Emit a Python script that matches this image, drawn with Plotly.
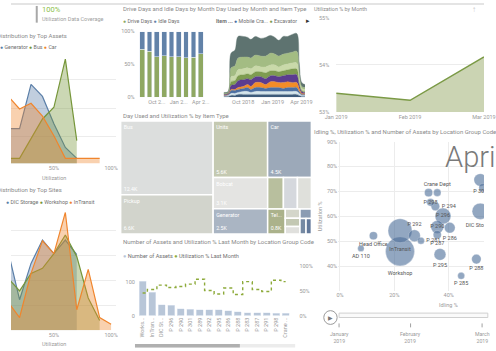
import plotly.graph_objects as go

W, H = 496, 351
def fx(p): return p / W
def fy(p): return 1 - p / H

FONT = "Roboto"
TITLE = "#8a8a8a"
TICK = "#9a9a9a"
GRID = "#ececec"

# ---------------- data ----------------
util_bins = [0, 10, 20, 30, 40, 50, 60, 70, 80, 90, 100]
asset_generator = [12.8, 12.8, 12.8, 28.3, 24.1, 14.5, 6.2, 2.4]
asset_bus = [2.4, 2.4, 2.4, 9.3, 16.2, 20.3, 37.2, 8.6]
asset_car = [23.0, 24.2, 19.7, 21.7, 17.2, 10.3, 2.4, 2.4, 2.4, 2.4]

site_dic = [20.0, 31.5, 12.2, 26.7, 36.0, 30.6, 36.0, 30.2]
site_workshop = [18.0, 20.8, 15.7, 22.7, 24.7, 30.6, 38.0, 29.4, 12.9, 3.9]
site_intransit = [8.0, 11.2, 5.1, 22.7, 35.7, 30.6, 47.0, 8.2, 24.3, 5.1, 2.4]

months = ["Aug 2018", "Sep 2018", "Oct 2018", "Nov 2018", "Dec 2018",
          "Jan 2019", "Feb 2019", "Mar 2019", "Apr 2019"]
drive_pct = [73, 70, 62, 63, 62, 62, 60, 61, 66]
idle_pct = [27, 30, 38, 37, 38, 38, 40, 39, 34]
month_ticks = ["Oct 2018", "Jan 2019", "Apr 2019"]
month_ticktext = ["Oct 2...", "Jan 2...", "Apr 2..."]

stream_dates = ["2018-08-01", "2018-08-15", "2018-08-24", "2018-09-05", "2018-09-15",
                "2018-10-01", "2018-10-15", "2018-10-25", "2018-11-08", "2018-11-25",
                "2018-12-10", "2018-12-25", "2019-01-08", "2019-01-20", "2019-02-03",
                "2019-02-17", "2019-03-03", "2019-03-17", "2019-03-25", "2019-04-02",
                "2019-04-12"]
stream_names = ["Telehandler", "Shovel", "Mobile Crane", "Generator", "Bobcat",
                "Excavator", "Car", "Units", "Bus"]
stream_colors = ["#3D5A7A", "#D6E6EC", "#4C6FA2", "#F28C28", "#5B3C8F",
                 "#7E9C50", "#C9D9A9", "#A3BC83", "#5E7370"]
stream_l1 = [1, 1, 2, 2, 3, 3, 3, 3, 3, 3, 3, 3, 3, 3, 3, 3, 3, 3, 2, 1, 1]
stream_l2 = [1, 1, 2, 2, 2, 3, 3, 2, 3, 3, 3, 3, 3, 3, 3, 3, 3, 3, 2, 1, 1]
stream_l3 = [0, 1, 3, 3, 3, 3, 4, 3, 4, 4, 3, 4, 4, 4, 3, 4, 4, 4, 2, 1, 1]
stream_l4 = [0, 0, 1, 1, 2, 2, 3, 3, 5, 5, 4, 6, 6, 5, 6, 6, 5, 5, 3, 1, 1]
stream_l5 = [1, 1, 4, 5, 7, 7, 6, 7, 6, 6, 6, 6, 6, 6, 7, 7, 8, 8, 4, 2, 1]
stream_l6 = [1, 1, 4, 4, 5, 5, 5, 5, 5, 5, 6, 5, 5, 5, 5, 5, 6, 6, 3, 1, 1]
stream_l7 = [0, 0, 5, 5, 6, 6, 6, 6, 6, 5, 6, 6, 6, 5, 6, 6, 6, 6, 3, 2, 2]
stream_l8 = [0, 0, 9, 10, 12, 12, 11, 11, 11, 11, 11, 12, 11, 11, 11, 11, 11, 12, 6, 2, 2]
stream_l9 = [1, 1, 15, 16, 22, 21, 20, 19, 19, 18, 19, 18, 17, 16, 18, 17, 18, 18, 10, 4, 3]
stream_layers = [stream_l1, stream_l2, stream_l3, stream_l4, stream_l5,
                 stream_l6, stream_l7, stream_l8, stream_l9]
stream_ticks = ["2018-10-01", "2019-01-01", "2019-04-01"]
stream_ticktext = ["Oct 2018", "Jan 2019", "Apr 2019"]

util_months = ["Jan 2019", "Feb 2019", "Mar 2019"]
util_values = [53.40, 53.25, 54.17]

item_types = ["Bus", "Pickup", "Units", "Car", "Bobcat", "Generator", "Shovel",
              "Loader", "Forklift", "Telehandler", "Compressor", "Lighting Tower",
              "Welder", "Van", "Truck", "Roller"]
item_days = [12.4, 6.6, 5.6, 4.5, 3.1, 2.5, 0.9, 0.8, 0.8, 0.8,
             0.25, 0.22, 0.2, 0.2, 0.17, 0.15]
item_short = ["Bus", "Pickup", "Units", "Car", "Bobcat", "Generator", "Sh...", "", "",
              "Tel...", "", "", "", "", "", ""]
item_value_text = ["12.4K", "6.6K", "5.6K", "4.5K", "3.1K", "2.5K", "0.9K", "0.8K",
                   "0.8K", "0.8K", "", "", "", "", "", ""]
item_colors = ["#DCDEDD", "#D2D4CC", "#C4C9B1", "#9CA9B9", "#E4E4E2", "#AAB5C3",
               "#B8BF9E", "#D5D8DD", "#DFE0DB", "#ABB28B", "#D4D6CA", "#C3C8B3",
               "#E0E0DD", "#8B9CB3", "#7589A3", "#62789A"]

loc_codes = ["Workshop", "InTransit", "DIC Storage", "P 296", "P 290", "P 301", "P 289",
             "P 292", "P 295", "P 286", "P 288", "P 283", "P 287", "P 291", "P 298",
             "Crane Dept"]
loc_ticktext = ["Works...", "InTran...", "DIC St...", "P 296", "P 290", "P 301", "P 289",
                "P 292", "P 295", "P 286", "P 288", "P 283", "P 287", "P 291", "P 298",
                "Crane ..."]
loc_assets = [102, 70, 32, 31, 20, 19, 18, 17, 17, 14, 11, 8, 8, 8, 7, 7]
loc_util_last = [46, 53, 62, 57, 59, 64, 74, 51, 44, 56, 43, 69, 53, 49, 72, 69]

bub_names = ["Workshop", "InTransit", "DIC Storage", "P 296", "P 290", "P 301", "P 292",
             "P 295", "P 286", "P 288", "P 294", "P 291", "P 287", "P 283", "Head Office",
             "P 281", "Crane Dept", "P 298", "P 285", "AD 110"]
bub_labels = ["Workshop", "InTransit", "DIC Storage", "P 296", "P 290", "P 301", "P 292",
              "P 295", "P 286", "P 288", "P 294", "", "P 287", "", "Head Office",
              "P 281", "Crane Dept", "P 298", "P 285", "AD 110"]
bub_idle = [22.1, 22.1, 51.6, 37.9, 35.8, 51.6, 27.4, 36.8, 40.4, 50.2, 35.1, 32.6,
            35.8, 52.6, 12.3, 29.8, 35.8, 33.3, 44.6, 7.7]
bub_util = [45.9, 54.2, 62.0, 60.1, 55.7, 74.6, 52.2, 44.7, 55.4, 42.8, 64.0, 69.5,
            52.6, 71.5, 52.2, 50.2, 69.5, 65.6, 36.1, 47.1]
bub_assets = [102, 70, 32, 31, 20, 19, 17, 17, 14, 11, 9, 8, 8, 8, 8, 6, 7, 7, 6, 5]
bub_textpos = ["bottom center", "bottom center", "bottom center", "middle center",
               "middle center", "bottom center", "top center", "bottom center",
               "bottom center", "bottom center", "middle right", "middle center",
               "bottom center", "middle center", "bottom center", "middle right",
               "top center", "middle center", "bottom center", "bottom center"]

# ---------------- figure ----------------
fig = go.Figure()

def area(x, y, color, fill, xa, ya):
    fig.add_trace(go.Scatter(x=x, y=y, mode="lines", fill="tozeroy", fillcolor=fill,
                             line=dict(color=color, width=1.2), xaxis=xa, yaxis=ya,
                             hoverinfo="skip", showlegend=False))

BLUE_L, GREEN_L, ORANGE_L = "#5B7FA8", "#76963A", "#F0852D"
BLUE_F, GREEN_F, ORANGE_F = "rgba(91,127,168,0.38)", "rgba(118,150,58,0.38)", "rgba(240,133,45,0.38)"

area(util_bins[:len(asset_generator)], asset_generator, BLUE_L, BLUE_F, "x", "y")
area(util_bins[:len(asset_bus)], asset_bus, GREEN_L, GREEN_F, "x", "y")
area(util_bins[:len(asset_car)], asset_car, ORANGE_L, ORANGE_F, "x", "y")

area(util_bins[:len(site_dic)], site_dic, BLUE_L, BLUE_F, "x2", "y2")
area(util_bins[:len(site_workshop)], site_workshop, GREEN_L, GREEN_F, "x2", "y2")
area(util_bins[:len(site_intransit)], site_intransit, ORANGE_L, ORANGE_F, "x2", "y2")

DRIVE_G, IDLE_B = "#8FA862", "#6282A8"
fig.add_trace(go.Bar(x=months, y=drive_pct, marker_color=DRIVE_G, width=0.65,
                     xaxis="x3", yaxis="y3", hoverinfo="skip", showlegend=False))
fig.add_trace(go.Bar(x=months, y=idle_pct, marker_color=IDLE_B, width=0.65,
                     xaxis="x3", yaxis="y3", hoverinfo="skip", showlegend=False))

for name, layer, col in zip(stream_names, stream_layers, stream_colors):
    fig.add_trace(go.Scatter(x=stream_dates, y=layer, name=name, mode="lines",
                             stackgroup="stream", fillcolor=col,
                             line=dict(color=col, width=0.4, shape="spline"),
                             xaxis="x4", yaxis="y4", hoverinfo="skip", showlegend=False))

fig.add_trace(go.Scatter(x=util_months, y=util_values, mode="lines", fill="tozeroy",
                         fillcolor="#CBD4B3", line=dict(color="#7B9A46", width=1.5),
                         xaxis="x5", yaxis="y5", hoverinfo="skip", showlegend=False))

fig.add_trace(go.Scatter(x=bub_idle, y=bub_util, mode="markers+text", text=bub_labels,
                         textposition=bub_textpos,
                         textfont=dict(family=FONT, size=5.5, color="#555555"),
                         marker=dict(size=bub_assets, sizemode="area",
                                     sizeref=2 * max(bub_assets) / 29 ** 2,
                                     color="rgba(74,108,152,0.85)",
                                     line=dict(color="rgba(255,255,255,0.5)", width=0.6)),
                         xaxis="x6", yaxis="y6", hoverinfo="skip", showlegend=False))

tm_domain = dict(x=[fx(115), fx(315)], y=[fy(235), fy(120)])
fig.add_trace(go.Treemap(labels=item_types, parents=[""] * len(item_types), values=item_days,
                         text=item_short, texttemplate="%{text}", textposition="top left",
                         textfont=dict(family=FONT, size=6, color="white"),
                         marker=dict(colors=item_colors, line=dict(color="white", width=1.5),
                                     pad=dict(t=0, l=0, r=0, b=0)),
                         tiling=dict(packing="squarify", squarifyratio=1.618, pad=0),
                         pathbar=dict(visible=False), sort=True, domain=tm_domain,
                         hoverinfo="skip"))
fig.add_trace(go.Treemap(labels=item_types, parents=[""] * len(item_types), values=item_days,
                         text=item_value_text, texttemplate="%{text}", textposition="bottom left",
                         textfont=dict(family=FONT, size=5.5, color="white"),
                         marker=dict(colors=["rgba(0,0,0,0)"] * len(item_types),
                                     line=dict(color="rgba(0,0,0,0)", width=1.5),
                                     pad=dict(t=0, l=0, r=0, b=0)),
                         tiling=dict(packing="squarify", squarifyratio=1.618, pad=0),
                         pathbar=dict(visible=False), sort=True, domain=tm_domain,
                         hoverinfo="skip"))

fig.add_trace(go.Bar(x=loc_codes, y=loc_assets, marker_color="#B8C6D8", width=0.73,
                     xaxis="x7", yaxis="y7", hoverinfo="skip", showlegend=False))
fig.add_trace(go.Scatter(x=loc_codes, y=loc_util_last, mode="lines",
                         line=dict(color="#8DAA3A", width=1.4, dash="dot", shape="hvh"),
                         xaxis="x7", yaxis="y8", hoverinfo="skip", showlegend=False))

tickfont = dict(family=FONT, size=5.5, color=TICK)
common_hidden = dict(showgrid=False, zeroline=False, showline=False, ticks="")

layout = dict(
    width=W, height=H, margin=dict(l=0, r=0, t=0, b=0),
    paper_bgcolor="white", plot_bgcolor="rgba(0,0,0,0)", showlegend=False,
    barmode="stack", font=dict(family=FONT, size=5.5, color=TICK), hovermode=False,
    uniformtext=dict(minsize=5, mode="hide"),
    xaxis=dict(domain=[0, fx(110)], range=[12.5, 104.2], anchor="y",
               tickvals=[50, 100], ticktext=["50%", "100%"], tickfont=tickfont, **common_hidden),
    yaxis=dict(domain=[fy(163), fy(55)], range=[0.69, 37.9], anchor="x", tickvals=[10, 20, 30],
               showticklabels=False, gridcolor=GRID, zeroline=False, showline=False),
    xaxis2=dict(domain=[0, fx(110)], range=[12.5, 104.2], anchor="y2",
                tickvals=[50, 100], ticktext=["50%", "100%"], tickfont=tickfont, **common_hidden),
    yaxis2=dict(domain=[fy(333), fy(208)], range=[0, 49], anchor="x2", tickvals=[10, 20, 30, 40],
                showticklabels=False, gridcolor=GRID, zeroline=False, showline=False),
    xaxis3=dict(domain=[fx(133.7), fx(202.8)], anchor="y3", type="category",
                tickvals=month_ticks, ticktext=month_ticktext, tickfont=tickfont, **common_hidden),
    yaxis3=dict(domain=[fy(96), fy(29)], range=[0, 100], anchor="x3", tickvals=[0, 50, 100],
                ticktext=["0%", "50%", "100%"], tickfont=tickfont, ticklabelstandoff=3,
                **common_hidden),
    xaxis4=dict(domain=[fx(223), fx(314)], anchor="y4", type="date",
                range=["2018-08-01", "2019-04-29"], tickvals=stream_ticks,
                ticktext=stream_ticktext, tickfont=tickfont, **common_hidden),
    yaxis4=dict(domain=[fy(96), fy(27)], range=[0, 69], anchor="x4", visible=False),
    xaxis5=dict(domain=[fx(341), 1], anchor="y5", type="category", range=[0, 2.0],
                tickfont=tickfont, **common_hidden),
    yaxis5=dict(domain=[fy(111), fy(15)], range=[53, 55], anchor="x5", tickvals=[53, 54, 55],
                ticktext=["53%", "54%", "55%"], tickfont=tickfont, gridcolor=GRID,
                zeroline=False, showline=False, ticks="", ticklabelstandoff=6),
    xaxis6=dict(domain=[fx(343), 1], range=[-0.7, 53], anchor="y6", tickvals=[0, 20, 40],
                ticktext=["0%", "20%", "40%"], tickfont=tickfont, gridcolor=GRID,
                zeroline=False, showline=False, ticks=""),
    yaxis6=dict(domain=[fy(293), fy(141)], range=[30, 90], anchor="x6",
                tickvals=[40, 50, 60, 70, 80, 90],
                ticktext=["40%", "50%", "60%", "70%", "80%", "90%"], tickfont=tickfont,
                gridcolor=GRID, zeroline=False, showline=False, ticks=""),
    xaxis7=dict(domain=[fx(133), fx(293)], anchor="y7", type="category", tickangle=-90,
                tickvals=loc_codes, ticktext=loc_ticktext,
                tickfont=dict(family=FONT, size=5.5, color=TICK), **common_hidden),
    yaxis7=dict(domain=[fy(318), fy(268)], range=[0, 147], anchor="x7", tickvals=[0, 100],
                tickfont=tickfont, ticklabelstandoff=2, **common_hidden),
    yaxis8=dict(overlaying="y7", side="right", anchor="x7", range=[0, 100],
                tickvals=[0, 50, 100], ticktext=["0%", "50%", "100%"], tickfont=tickfont,
                ticklabelstandoff=8, **common_hidden),
)


def ann(text, x, y, size=6, color=TITLE, xanchor="left", yanchor="middle", **kw):
    return dict(text=text, x=fx(x), y=fy(y), xref="paper", yref="paper", showarrow=False,
                font=dict(family=FONT, size=size, color=color), xanchor=xanchor,
                yanchor=yanchor, borderpad=0, **kw)


def dot(c):
    return "<span style='color:%s'>●</span>" % c


LEG = "#6f6f6f"
annotations = [
    ann("100%", 31, 7, size=7.5, color="#8CC04A"),
    ann("Utilization Data Coverage", 31, 16, size=5.5, color="#a0a0a0"),
    ann("Utilization Distribution by Top Assets", -45, 33),
    ann(dot(BLUE_L) + " Generator " + dot(GREEN_L) + " Bus " + dot(ORANGE_L) + " Car",
        -13, 45, size=5.3, color=LEG),
    ann("Utilization", 45, 178, size=5.5, color=TICK, xanchor="center"),
    ann("Utilization Distribution by Top Sites", -45, 190),
    ann(dot(BLUE_L) + " DIC Storage " + dot(GREEN_L) + " Workshop " + dot(ORANGE_L) + " InTransit",
        -6, 202, size=5.3, color=LEG),
    ann("Utilization", 45, 347, size=5.5, color=TICK, xanchor="center"),
    ann("Drive Days and Idle Days by Month", 116, 6),
    ann(dot(DRIVE_G) + " Drive Days " + dot(IDLE_B) + " Idle Days", 116, 18, size=5.3, color=LEG),
    ann("Day Used by Month and Item Type", 214, 6),
    ann("<b>Item ...</b> " + dot("#4C6FA2") + " Mobile Cra... " + dot("#7E9C50") + " Excavator",
        214, 18, color=LEG, size=5.3),
    ann("▸", 315, 18, size=7, color="#333333", xanchor="right"),
    ann("Utilization % by Month", 317, 6, size=5.4),
    ann("↑", 486, 7, size=8, color="#c8c8c8", xanchor="center"),
    ann("Day Used and Utilization % by Item Type", 116, 114),
    ann("Number of Assets and Utilization % Last Month by Location Group Code", 116, 243),
    ann(dot("#B8C6D8") + " Number of Assets " + dot("#8DAA3A") + " Utilization % Last Month",
        116, 257, size=5.6, color=LEG),
    ann("Idling %, Utilization % and Number of Assets by Location Group Code", 317, 131),
    ann("Utilization %", 324, 217, size=5.5, color=TICK, xanchor="center", textangle=-90),
    ann("Idling %", 459, 307, size=5.5, color=TICK, xanchor="center"),
    dict(text="April 2019", x=fx(454), y=fy(157), xref="paper", yref="paper", showarrow=False,
         font=dict(family=FONT, size=29, color="#7a7a7a", weight=300), xanchor="left",
         yanchor="middle", borderpad=0),
    ann("▶", 335.5, 320, size=6, color="#777777", xanchor="center"),
    ann("January<br>2019", 344, 340, size=5.2, color=TICK, xanchor="center"),
    ann("February<br>2019", 419, 340, size=5.2, color=TICK, xanchor="center"),
    ann("March<br>2019", 494, 340, size=5.2, color=TICK, xanchor="center"),
]

shapes = [
    dict(type="rect", xref="paper", yref="paper", x0=0, x1=1, y0=fy(2), y1=1,
         fillcolor="#e4e4e4", line=dict(width=0)),
    dict(type="line", xref="paper", yref="paper", x0=fx(27), x1=fx(27), y0=fy(20), y1=fy(3),
         line=dict(color="#a8a8a8", width=2)),
    dict(type="circle", xref="paper", yref="paper", x0=fx(328), x1=fx(342), y0=fy(327),
         y1=fy(313), line=dict(color="#9a9a9a", width=1)),
    dict(type="rect", xref="paper", yref="paper", x0=fx(344), x1=fx(500), y0=fy(320),
         y1=fy(315.5), fillcolor="#fafafa", line=dict(color="#d0d0d0", width=1)),
    dict(type="rect", xref="paper", yref="paper", x0=fx(130), x1=fx(298), y0=fy(350.5),
         y1=fy(347), fillcolor="#ececec", line=dict(width=0)),
    dict(type="rect", xref="paper", yref="paper", x0=fx(130), x1=fx(240), y0=fy(350.5),
         y1=fy(347), fillcolor="#b0b0b0", line=dict(width=0)),
]
for tx in [344, 419, 494]:
    shapes.append(dict(type="line", xref="paper", yref="paper", x0=fx(tx), x1=fx(tx),
                       y0=fy(330), y1=fy(326), line=dict(color="#a0a0a0", width=1)))

layout["annotations"] = annotations
layout["shapes"] = shapes
fig.update_layout(**layout)

fig.write_html("out.html", config={"displayModeBar": False})
